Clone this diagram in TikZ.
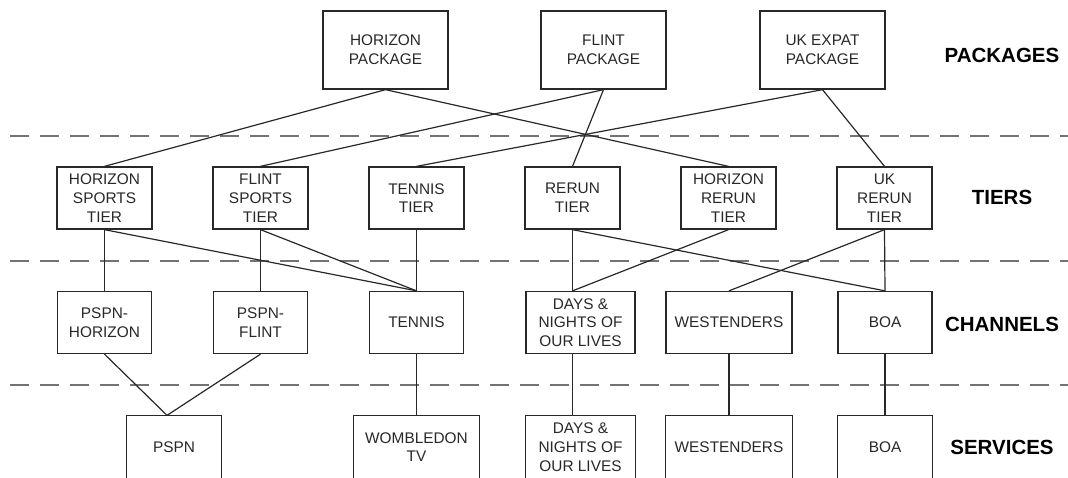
\documentclass[tikz,border=0pt]{standalone}
\usepackage{fontspec}
\setmainfont{Liberation Sans}
\usepackage{xcolor}
\definecolor{Ink}{RGB}{40, 40, 40}
\definecolor{Divider}{RGB}{115, 115, 115}

\begin{document}
\begin{tikzpicture}[x=1pt, y=-1pt,
    box/.style={draw=Ink, line width=1.3pt, minimum width=#1, minimum height=62pt,
        inner sep=0pt, align=center, text=Ink, font=\fontsize{15.4}{18.7}\selectfont},
    box/.default=94pt,
    pkgbox/.style={box=125pt, minimum height=78pt},
    svcbox/.style={box=#1, draw=none},
    svcbox/.default=94pt,
    frame/.style={draw=Ink, line width=1.3pt},
    link/.style={draw=Ink, line width=1.2pt},
    divider/.style={draw=Divider, line width=1.8pt, dash pattern=on 19pt off 11pt},
    rowlabel/.style={text=black, font=\bfseries\fontsize{20.5}{24}\selectfont}]
    \useasboundingbox (0,0) rectangle (1068,477);
    \clip (0,0) rectangle (1068,477);

    % Layer dividers
    \draw[divider] (10,136) -- (1068,136);
    \draw[divider] (10,261) -- (1068,261);
    \draw[divider] (10,385) -- (1068,385);

    % Packages
    \node[pkgbox] (hpkg) at (385.5,50) {HORIZON\\PACKAGE};
    \node[pkgbox] (fpkg) at (603.5,50) {FLINT\\PACKAGE};
    \node[pkgbox] (ukpkg) at (822.5,50) {UK EXPAT\\PACKAGE};

    % Tiers
    \node[box=95pt] (hsport) at (104.5,198) {HORIZON\\SPORTS\\TIER};
    \node[box=95pt] (fsport) at (260.5,198) {FLINT\\SPORTS\\TIER};
    \node[box=95pt] (ttier) at (416.5,198) {TENNIS\\TIER};
    \node[box=95pt] (rtier) at (572.5,198) {RERUN\\TIER};
    \node[box=95pt] (hrtier) at (728.5,198) {HORIZON\\RERUN\\TIER};
    \node[box=95pt] (ukrtier) at (884.5,198) {UK\\RERUN\\TIER};

    % Channels
    \node[box] (pspnh) at (104.5,322.5) {PSPN-\\HORIZON};
    \node[box] (pspnf) at (260.5,322.5) {PSPN-\\FLINT};
    \node[box] (tennis) at (416.5,322.5) {TENNIS};
    \node[box=109pt] (days) at (580.5,322.5) {DAYS \&\\NIGHTS OF\\OUR LIVES};
    \node[box=126pt] (west) at (729,322.5) {WESTENDERS};
    \node[box] (boa) at (885,322.5) {BOA};

    % Services (cut off at the bottom edge)
    \node[svcbox] (pspn) at (174,447) {PSPN};
    \node[svcbox=125pt] (wtv) at (416.5,447) {WOMBLEDON\\TV};
    \node[svcbox=109pt] (sdays) at (580.5,447) {DAYS \&\\NIGHTS OF\\OUR LIVES};
    \node[svcbox=126pt] (swest) at (729,447) {WESTENDERS};
    \node[svcbox] (sboa) at (885,447) {BOA};
    \draw[frame] (pspn.south west) -- (pspn.north west) -- (pspn.north east) -- (pspn.south east);
    \draw[frame] (wtv.south west) -- (wtv.north west) -- (wtv.north east) -- (wtv.south east);
    \draw[frame] (sdays.south west) -- (sdays.north west) -- (sdays.north east) -- (sdays.south east);
    \draw[frame] (swest.south west) -- (swest.north west) -- (swest.north east) -- (swest.south east);
    \draw[frame] (sboa.south west) -- (sboa.north west) -- (sboa.north east) -- (sboa.south east);

    % Row labels
    \node[rowlabel] (lpkg) at (1002,55) {PACKAGES};
    \node[rowlabel] (ltier) at (1002,197) {TIERS};
    \node[rowlabel] (lchan) at (1002,324) {CHANNELS};
    \node[rowlabel] (lserv) at (1002,447) {SERVICES};

    % Joins that sit off centre
    \coordinate (daystop) at (rtier.south |- days.north);
    \coordinate (daysbot) at (rtier.south |- days.south);
    \coordinate (sdaystop) at (rtier.south |- sdays.north);
    \coordinate (pspntop) at ([xshift=-7pt]pspn.north);

    % Packages to tiers
    \draw[link] (hpkg.south) -- (hsport.north);
    \draw[link] (hpkg.south) -- (hrtier.north);
    \draw[link] (fpkg.south) -- (fsport.north);
    \draw[link] (fpkg.south) -- (rtier.north);
    \draw[link] (ukpkg.south) -- (ttier.north);
    \draw[link] (ukpkg.south) -- (ukrtier.north);

    % Tiers to channels
    \draw[link] (hsport.south) -- (pspnh.north);
    \draw[link] (hsport.south) -- (tennis.north);
    \draw[link] (fsport.south) -- (pspnf.north);
    \draw[link] (fsport.south) -- (tennis.north);
    \draw[link] (ttier.south) -- (tennis.north);
    \draw[link] (rtier.south) -- (daystop);
    \draw[link] (rtier.south) -- (boa.north);
    \draw[link] (hrtier.south) -- (daystop);
    \draw[link] (ukrtier.south) -- (west.north);
    \draw[link] (ukrtier.south) -- (boa.north);

    % Channels to services
    \draw[link] (pspnh.south) -- (pspntop);
    \draw[link] (pspnf.south) -- (pspntop);
    \draw[link] (tennis.south) -- (wtv.north);
    \draw[link] (daysbot) -- (sdaystop);
    \draw[link] (west.south) -- (swest.north);
    \draw[link] (boa.south) -- (sboa.north);
\end{tikzpicture}
\end{document}
